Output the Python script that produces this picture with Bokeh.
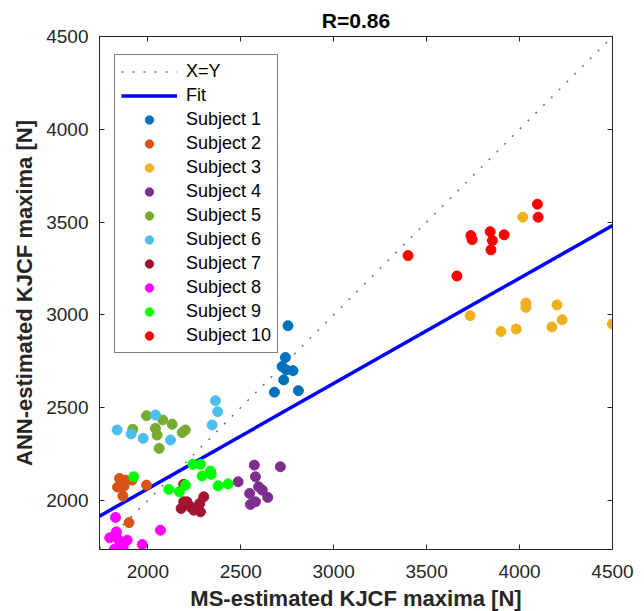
from bokeh.plotting import figure
from bokeh.models import Range1d, LinearAxis, FixedTicker, Legend, LegendItem
from bokeh.embed import file_html
from bokeh.resources import INLINE

# ---- data ----
subjects = ["Subject 1", "Subject 2", "Subject 3", "Subject 4", "Subject 5",
            "Subject 6", "Subject 7", "Subject 8", "Subject 9", "Subject 10"]
colors = ["#0072BD", "#D95319", "#EDB120", "#7E2F8E", "#77AC30",
          "#4DBEEE", "#A2142F", "#FF00FF", "#00FF00", "#FF0000"]

s1_x = [2754, 2740, 2722, 2745, 2781, 2731, 2681, 2810]
s1_y = [2941, 2770, 2721, 2703, 2699, 2649, 2583, 2591]
s2_x = [1848, 1837, 1872, 1915, 1880, 1866, 1993, 1899]
s2_y = [2118, 2071, 2077, 2109, 2109, 2023, 2082, 1880]
s3_x = [4018, 3734, 3900, 3982, 4034, 4034, 4201, 4174, 4229, 4499]
s3_y = [3526, 2995, 2910, 2923, 3063, 3040, 3053, 2934, 2973, 2950]
s4_x = [2573, 2713, 2579, 2486, 2596, 2548, 2645, 2579, 2552, 2616]
s4_y = [2190, 2181, 2127, 2100, 2073, 2037, 2016, 1992, 1978, 2055]
s5_x = [1993, 2080, 2131, 1919, 2041, 2050, 2185, 2202, 2061]
s5_y = [2456, 2433, 2410, 2383, 2388, 2352, 2365, 2379, 2280]
s6_x = [1835, 1910, 1975, 2041, 2122, 2364, 2376, 2346]
s6_y = [2379, 2358, 2334, 2460, 2325, 2537, 2478, 2406]
s7_x = [2193, 2193, 2179, 2229, 2247, 2283, 2279, 2301, 2211]
s7_y = [2086, 1992, 1956, 1965, 1947, 1938, 1983, 2019, 1992]
s8_x = [1826, 1795, 1831, 1844, 1889, 1821, 1867, 1970, 2068]
s8_y = [1908, 1798, 1830, 1785, 1785, 1737, 1746, 1762, 1839]
s9_x = [1924, 2113, 2170, 2202, 2242, 2283, 2292, 2337, 2341, 2378, 2432]
s9_y = [2127, 2059, 2046, 2082, 2194, 2194, 2131, 2158, 2140, 2078, 2088]
s10_x = [4096, 4100, 3400, 3663, 3738, 3745, 3842, 3854, 3917, 3846]
s10_y = [3596, 3526, 3319, 3209, 3427, 3405, 3448, 3400, 3431, 3350]

xs = [s1_x, s2_x, s3_x, s4_x, s5_x, s6_x, s7_x, s8_x, s9_x, s10_x]
ys = [s1_y, s2_y, s3_y, s4_y, s5_y, s6_y, s7_y, s8_y, s9_y, s10_y]

identity_x = [1740, 4500]
identity_y = [1740, 4500]
fit_x = [1740, 4500]
fit_y = [1915, 3481]

ticks = [2000, 2500, 3000, 3500, 4000, 4500]
title_text = "R=0.86"
x_label = "MS-estimated KJCF maxima [N]"
y_label = "ANN-estimated KJCF maxima [N]"

FONT = "Liberation Sans"
AX = "#262626"

p = figure(frame_width=513, frame_height=513,
           min_border_left=99, min_border_right=24,
           min_border_top=36, min_border_bottom=60,
           x_range=Range1d(1740, 4500), y_range=Range1d(1735, 4500),
           output_backend="svg", toolbar_location=None, title=title_text)

p.title.align = "center"
p.title.text_font = FONT
p.title.text_font_size = "21px"
p.title.text_font_style = "bold"
p.title.text_color = "black"
p.title.standoff = 10

p.xgrid.visible = False
p.ygrid.visible = False
p.outline_line_color = AX
p.outline_line_width = 1

def style_axis(ax, labels=True):
    ax.ticker = FixedTicker(ticks=ticks)
    ax.major_tick_in = 5
    ax.major_tick_out = 0
    ax.minor_tick_line_color = None
    ax.axis_line_color = AX
    ax.major_tick_line_color = AX
    ax.major_label_text_color = AX
    ax.major_label_text_font = FONT
    ax.major_label_text_font_size = "19px"
    if labels:
        ax.major_label_standoff = 8
    else:
        ax.major_label_overrides = {t: "" for t in ticks}
        ax.major_label_standoff = 0

style_axis(p.xaxis[0])
style_axis(p.yaxis[0])
p.xaxis[0].major_label_standoff = 15
p.yaxis[0].major_label_standoff = 11
p.xaxis[0].axis_label = x_label
p.yaxis[0].axis_label = y_label
for ax in (p.xaxis[0], p.yaxis[0]):
    ax.axis_label_text_font = FONT
    ax.axis_label_text_font_size = "22px"
    ax.axis_label_text_font_style = "bold"
    ax.axis_label_text_color = AX
p.xaxis[0].axis_label_standoff = 5
p.yaxis[0].axis_label_standoff = 6

top_ax = LinearAxis()
right_ax = LinearAxis()
style_axis(top_ax, labels=False)
style_axis(right_ax, labels=False)
p.add_layout(top_ax, "above")
p.add_layout(right_ax, "right")

r_xy = p.line(identity_x, identity_y, line_color="#707070", line_width=1.5,
              line_dash="2 9")
r_fit = p.line(fit_x, fit_y, line_color="#0000FF", line_width=3.5)

items = [LegendItem(label="X=Y", renderers=[r_xy]),
         LegendItem(label="Fit", renderers=[r_fit])]
for name, c, x, y in zip(subjects, colors, xs, ys):
    r = p.scatter(x, y, marker="circle", size=10, fill_color=c, line_color=c)
    items.append(LegendItem(label=name, renderers=[r]))

legend = Legend(items=items, location=(15, 196))
legend.border_line_color = "black"
legend.border_line_width = 1
legend.background_fill_alpha = 1
legend.label_text_font = FONT
legend.label_text_font_size = "18px"
legend.label_text_color = "black"
legend.glyph_width = 56
legend.glyph_height = 21
legend.label_height = 21
legend.spacing = 3
legend.padding = 6
legend.margin = 0
legend.label_standoff = 9
p.add_layout(legend)

open("out.html", "w").write(file_html(p, INLINE))
